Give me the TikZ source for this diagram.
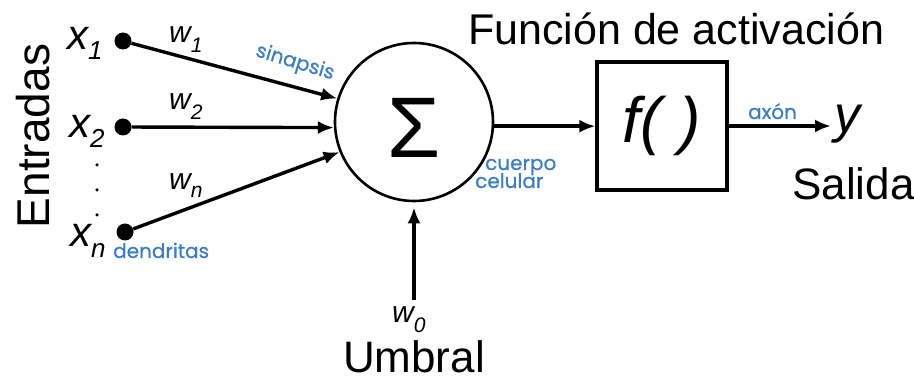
\documentclass[tikz,border=0pt]{standalone}
\usepackage{fontspec}
\setmainfont{Liberation Sans}
\newfontfamily\bluefont[FakeBold=0.6]{Poppins}
\usetikzlibrary{arrows.meta,calc}
\definecolor{lblblue}{RGB}{58,125,196}
\tikzset{
  conn/.style={line width=3.4pt,-{Latex[length=16pt,width=13pt]}},
  dotnode/.style={circle,fill=black,minimum size=17pt,inner sep=0pt},
  smalldot/.style={circle,fill=black,minimum size=3.5pt,inner sep=0pt},
  bluelbl/.style={font=\bluefont\fontsize{20}{22}\selectfont,text=lblblue,inner sep=0pt},
  biglbl/.style={font=\fontsize{44}{48}\selectfont,inner sep=0pt},
  varlbl/.style={font=\fontsize{42}{44}\selectfont\itshape,inner sep=0pt,anchor=base west},
  wlbl/.style={font=\fontsize{30}{32}\selectfont\itshape,inner sep=0pt,anchor=base west},
}
\newcommand{\subx}[2]{\raisebox{-#2pt}{\fontsize{26}{26}\selectfont #1}}
\newcommand{\subw}[2]{\raisebox{-#2pt}{\fontsize{21}{21}\selectfont #1}}
\begin{document}
\begin{tikzpicture}[x=1pt,y=-1pt]
\useasboundingbox (0,0) rectangle (914,379);
% main nodes
\node[circle,draw,line width=2.6pt,minimum size=158pt,inner sep=0pt] (sum) at (414,122) {};
\node[inner sep=0pt,font=\fontsize{86}{86}\selectfont] (sigma) at (414,128) {Σ};
\node[draw,line width=3.2pt,minimum width=130pt,minimum height=128pt,inner sep=0pt,font=\fontsize{64}{66}\selectfont\itshape] (fbox) at (662,126) {f( )};
% inputs
\node[dotnode] (d1) at (123,41) {};
\node[dotnode] (d2) at (123,127) {};
\node[dotnode] (dn) at (125,232) {};
\node[smalldot] (e1) at (97,165) {};
\node[smalldot] (e2) at (97,190) {};
\node[smalldot] (e3) at (97,215) {};
\node[varlbl] (x1) at (67,50) {x\subx{1}{10}};
\node[varlbl] (x2) at (69,138) {x\subx{2}{10}};
\node[varlbl] (xn) at (70,247) {x\subx{n}{11}};
\node[wlbl] (w1) at (169,43) {w\subw{1}{10}};
\node[wlbl] (w2) at (169,110) {w\subw{2}{10}};
\node[wlbl] (wn) at (169,190) {w\subw{n}{8}};
\node[biglbl,rotate=90,anchor=base,font=\fontsize{46}{48}\selectfont] (entr) at (49,136) {Entradas};
% connectors
\draw[conn] (d1) -- (sum.163);
\draw[conn] (d2) -- (sum.184);
\draw[conn] (dn) -- (sum.202);
\draw[conn] (sum.-3) -- (sum.-3 -| fbox.west);
\coordinate (yend) at (831,126);
\draw[conn] (fbox.east) -- (yend);
\coordinate (bstart) at (414,300);
\draw[conn,shorten >=5pt] (bstart) -- (sum.south);
% labels
\node[bluelbl,rotate=-17] (sin) at (295,63) {sinapsis};
\node[bluelbl,anchor=base west] (dend) at (113,258) {dendritas};
\node[bluelbl,anchor=base west] (cu) at (485,170) {cuerpo};
\node[bluelbl,anchor=base west] (ce) at (475,188) {celular};
\node[bluelbl,anchor=base west] (ax) at (748,119) {axón};
\node[inner sep=0pt,anchor=base west,font=\fontsize{52}{54}\selectfont\itshape] (yout) at (834,133) {y};
\node[biglbl,anchor=base west] (sal) at (792,200) {Salida};
\node[wlbl] (w0) at (392,323) {w\subw{0}{10}};
\node[biglbl,anchor=base] (umb) at (414,373) {Umbral};
\node[biglbl,anchor=base west,font=\fontsize{43}{46}\selectfont] (fa) at (468,45) {Función de activación};
\end{tikzpicture}
\end{document}
